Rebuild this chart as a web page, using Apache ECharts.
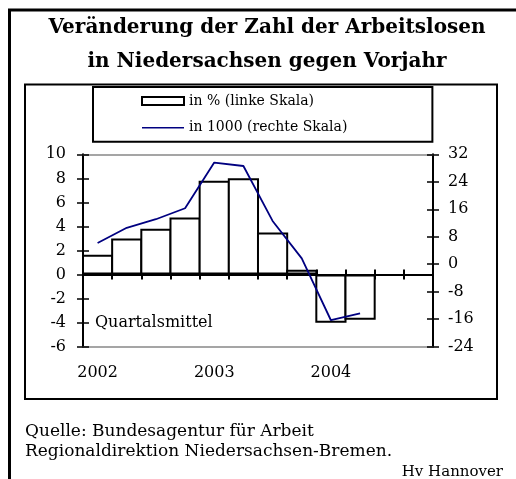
<!DOCTYPE html>
<html>
<head>
<meta charset="utf-8">
<script src="https://cdn.jsdelivr.net/npm/echarts@6/dist/echarts.min.js"></script>
<style>
html,body{margin:0;padding:0;background:#fff;}
#chart{width:516px;height:479px;}
</style>
</head>
<body>
<div id="chart"></div>
<script>
// Quarters (categories)
var quarters = ['I/2002','II/2002','III/2002','IV/2002','I/2003','II/2003','III/2003','IV/2003','I/2004','II/2004','III/2004','IV/2004'];
// Change in % vs previous year (left scale)
var pctValues = [1.65, 3.0, 3.8, 4.75, 7.8, 8.0, 3.5, 0.4, -4.0, -3.75];
// Change in 1000 persons (right scale)
var thousandValues = [6.2, 10.6, 13.1, 16.3, 29.6, 28.6, 12.6, 1.7, -16.3, -14.3];
var seriesNames = ['in % (linke Skala)', 'in 1000 (rechte Skala)'];
var titleLines = ['Veränderung der Zahl der Arbeitslosen', 'in Niedersachsen gegen Vorjahr'];
var sourceLines = ['Quelle: Bundesagentur für Arbeit', 'Regionaldirektion Niedersachsen-Bremen.'];
var noteText = 'Quartalsmittel';
var creditText = 'Hv Hannover';

var FONT = 'DejaVu Serif';
var chart = echarts.init(document.getElementById('chart'), null, {renderer: 'canvas'});

function xAxisBase(extra) {
  return Object.assign({
    type: 'category',
    data: quarters,
    boundaryGap: true,
    gridIndex: 0,
    axisLabel: {show: false},
    axisTick: {show: false},
    axisLine: {show: false},
    splitLine: {show: false}
  }, extra);
}

var option = {
  animation: false,
  backgroundColor: '#fff',
  textStyle: {fontFamily: FONT, color: '#000'},
  graphic: [
    {type: 'rect', shape: {x: 9.5, y: 10, width: 620, height: 620}, style: {fill: 'none', stroke: '#000', lineWidth: 3}, silent: true, z: 0},
    {type: 'rect', shape: {x: 25, y: 84.5, width: 472, height: 314.5}, style: {fill: 'none', stroke: '#000', lineWidth: 2}, silent: true, z: 0}
  ],
  title: [
    {text: titleLines.join('\n'), left: 267, textAlign: 'center', top: 11.5, padding: 0,
     textStyle: {fontFamily: FONT, fontWeight: 'bold', fontSize: 20, lineHeight: 33.4, color: '#000'}},
    {text: noteText, left: 95, top: 313, padding: 0,
     textStyle: {fontFamily: FONT, fontWeight: 'normal', fontSize: 16, lineHeight: 20, color: '#000'}},
    {text: sourceLines.join('\n'), left: 25, top: 422, padding: 0,
     textStyle: {fontFamily: FONT, fontWeight: 'normal', fontSize: 17, lineHeight: 19.7, color: '#000'}},
    {text: creditText, right: 13, top: 462, padding: 0,
     textStyle: {fontFamily: FONT, fontWeight: 'normal', fontSize: 15, lineHeight: 20, color: '#000'}}
  ],
  legend: {
    orient: 'vertical',
    left: 93, top: 87,
    padding: [7, 85, 7, 48],
    itemGap: 12.7,
    itemWidth: 42, itemHeight: 8,
    borderColor: '#000', borderWidth: 2,
    selectedMode: false,
    symbolKeepAspect: true,
    data: [
      {name: seriesNames[0], icon: 'rect'},
      {name: seriesNames[1], icon: 'path://M0,0H42V1.6H0Z'}
    ],
    textStyle: {fontFamily: FONT, fontSize: 14, color: '#000'}
  },
  grid: {left: 83, right: 83, top: 154.3, bottom: 132.3, containLabel: false, outerBoundsMode: 'none'},
  xAxis: [
    xAxisBase({position: 'bottom', axisLine: {show: true, onZero: true, onZeroAxisIndex: 0, lineStyle: {color: '#000', width: 2}},
      axisTick: {show: true, inside: false, length: 5, interval: 0, alignWithLabel: false, lineStyle: {color: '#000', width: 2}}}),
    xAxisBase({position: 'bottom', axisLine: {show: false, onZero: true, onZeroAxisIndex: 0},
      axisTick: {show: true, inside: true, length: 5, interval: 0, alignWithLabel: false, lineStyle: {color: '#000', width: 2}}}),
    xAxisBase({position: 'bottom', axisLine: {show: true, onZero: false, lineStyle: {color: '#888', width: 1.5}},
      axisLabel: {show: true, interval: 0, margin: 18, fontFamily: FONT, fontSize: 16, color: '#000',
        formatter: function (v) { return v.indexOf('I/') === 0 ? v.slice(2) : ''; }}}),
    xAxisBase({position: 'top', axisLine: {show: true, onZero: false, lineStyle: {color: '#888', width: 1.5}}})
  ],
  yAxis: [
    {type: 'value', position: 'left', min: -6, max: 10, interval: 2,
     axisLine: {show: true, onZero: false, lineStyle: {color: '#000', width: 2}},
     axisTick: {show: true, inside: false, length: 6, lineStyle: {color: '#000', width: 1.5}},
     axisLabel: {show: true, margin: 17, fontFamily: FONT, fontSize: 16, color: '#000'},
     splitLine: {show: false}},
    {type: 'value', position: 'right', min: -24, max: 32, interval: 8,
     axisLine: {show: true, onZero: false, lineStyle: {color: '#000', width: 2}},
     axisTick: {show: true, inside: false, length: 6, lineStyle: {color: '#000', width: 1.5}},
     axisLabel: {show: true, margin: 15, fontFamily: FONT, fontSize: 16, color: '#000'},
     splitLine: {show: false}},
    {type: 'value', position: 'left', min: -6, max: 10, interval: 2,
     axisLine: {show: false, onZero: false},
     axisTick: {show: true, inside: true, length: 6, lineStyle: {color: '#000', width: 1.5}},
     axisLabel: {show: false}, splitLine: {show: false}},
    {type: 'value', position: 'right', min: -24, max: 32, interval: 8,
     axisLine: {show: false, onZero: false},
     axisTick: {show: true, inside: true, length: 6, lineStyle: {color: '#000', width: 1.5}},
     axisLabel: {show: false}, splitLine: {show: false}}
  ],
  series: [
    {name: seriesNames[0], type: 'bar', xAxisIndex: 0, yAxisIndex: 0, data: pctValues,
     barWidth: 31.2, z: 1,
     itemStyle: {color: '#fff', borderColor: '#000', borderWidth: 2, borderRadius: 0},
     emphasis: {disabled: true}},
    {name: seriesNames[1], type: 'line', xAxisIndex: 0, yAxisIndex: 1, data: thousandValues,
     symbol: 'none', z: 5,
     lineStyle: {color: '#000080', width: 1.8},
     itemStyle: {color: '#000080'},
     emphasis: {disabled: true}}
  ]
};
chart.setOption(option);
</script>
</body>
</html>
